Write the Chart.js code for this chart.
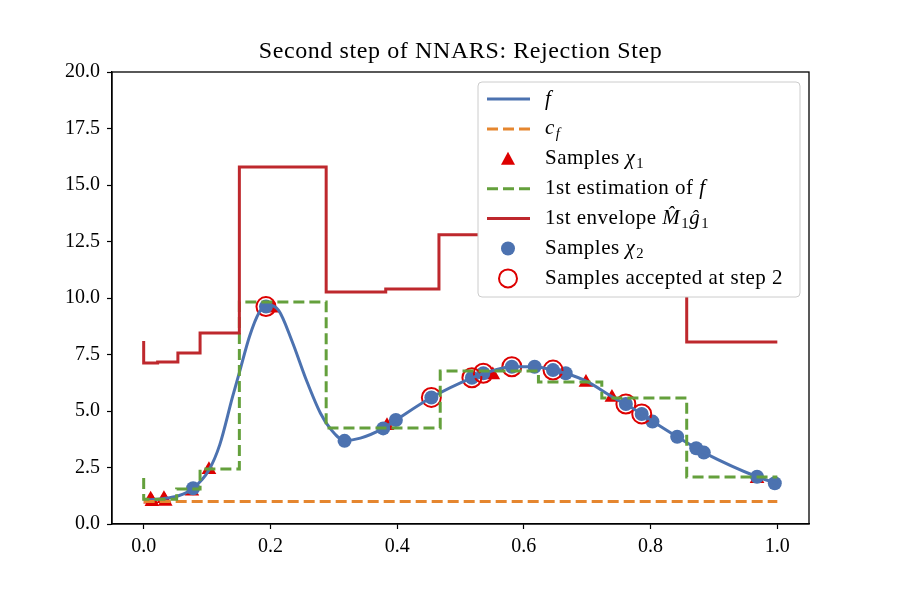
<!DOCTYPE html>
<html>
<head>
<meta charset="utf-8">
<script src="https://cdn.jsdelivr.net/npm/chart.js@4/dist/chart.umd.min.js"></script>
<style>
  body { margin: 0; background: #fff; }
  #wrap { width: 900px; height: 600px; }
</style>
</head>
<body>
<div id="wrap"><canvas id="nnars" width="900" height="600"></canvas></div>
<script>
// values
const fX = [0, 0.03, 0.055, 0.078, 0.103, 0.12, 0.14, 0.151, 0.167, 0.182, 0.195, 0.213, 0.234, 0.257, 0.279, 0.295, 0.317, 0.342, 0.378, 0.398, 0.454, 0.518, 0.536, 0.581, 0.617, 0.646, 0.666, 0.7, 0.741, 0.761, 0.786, 0.803, 0.842, 0.872, 0.884, 0.968, 1.0];
const fY = [1.05, 1.12, 1.25, 1.58, 2.39, 3.5, 5.6, 6.7, 8.3, 9.35, 9.7, 9.45, 8.1, 6.35, 4.9, 4.2, 3.7, 3.8, 4.23, 4.6, 5.6, 6.47, 6.65, 6.96, 6.96, 6.81, 6.67, 6.3, 5.6, 5.3, 4.87, 4.55, 3.86, 3.35, 3.16, 2.09, 1.8];

const cfX = [0, 1];
const cfY = [1, 1];

const chi1X = [0.011, 0.013, 0.032, 0.034, 0.076, 0.103, 0.203, 0.384, 0.551, 0.698, 0.739, 0.968];
const chi1Y = [1.1, 0.98, 1.12, 1.0, 1.45, 2.4, 9.55, 4.35, 6.59, 6.26, 5.6, 2.0];

// stepped lines: value holds from x[i] to x[i+1]
const estX = [0, 0, 0.052, 0.089, 0.151, 0.288, 0.468, 0.623, 0.723, 0.857, 1.0];
const estY = [2.04, 1.1, 1.55, 2.43, 9.82, 4.25, 6.77, 6.28, 5.57, 2.08, 2.08];

const envX = [0, 0, 0.022, 0.054, 0.089, 0.151, 0.288, 0.382, 0.466, 0.857, 1.0];
const envY = [8.1, 7.12, 7.17, 7.57, 8.45, 15.8, 10.27, 10.4, 12.8, 8.05, 8.05];

const chi2X = [0.078, 0.193, 0.317, 0.378, 0.398, 0.454, 0.518, 0.536, 0.581, 0.617, 0.646, 0.666, 0.761, 0.786, 0.803, 0.842, 0.872, 0.884, 0.968, 0.996];
const chi2Y = [1.58, 9.62, 3.68, 4.23, 4.6, 5.6, 6.47, 6.67, 6.96, 6.96, 6.81, 6.67, 5.31, 4.87, 4.53, 3.86, 3.35, 3.16, 2.09, 1.8];

const accX = [0.193, 0.454, 0.518, 0.536, 0.581, 0.646, 0.761, 0.786];
const accY = [9.62, 5.6, 6.47, 6.67, 6.96, 6.81, 5.31, 4.87];

const xTicks = [0, 0.2, 0.4, 0.6, 0.8, 1.0];
const yTicks = [0, 2.5, 5, 7.5, 10, 12.5, 15, 17.5, 20];

const titleText = 'Second step of NNARS: Rejection Step';
const legendRows = [
  [{t: 'f', i: 1}],
  [{t: 'c', i: 1}, {t: 'f', i: 1, s: 1}],
  [{t: 'Samples '}, {t: 'χ', i: 1}, {t: '1', s: 1}],
  [{t: '1st estimation of '}, {t: 'f', i: 1}],
  [{t: '1st envelope '}, {t: 'M\u0302', i: 1}, {t: '1', s: 1}, {t: '\u011D', i: 1}, {t: '1', s: 1}],
  [{t: 'Samples '}, {t: 'χ', i: 1}, {t: '2', s: 1}],
  [{t: 'Samples accepted at step 2'}]
];

const BLUE = '#4c72b0', ORANGE = '#e5862f', GREEN = '#64a03c', DARKRED = '#be282d', RED = '#dd0000';
const SERIF = '"Liberation Serif", "DejaVu Serif", serif';

function pts(xs, ys) {
  return xs.map((x, k) => ({x: x, y: ys[k]}));
}

function richText(ctx, segs, x, y, size) {
  segs.forEach(sg => {
    const sz = sg.s ? size * 0.7 : size;
    ctx.font = (sg.i ? 'italic ' : '') + sz + 'px ' + SERIF;
    ctx.fillText(sg.t, x, sg.s ? y + size * 0.25 : y);
    x += ctx.measureText(sg.t).width + (sg.i && !sg.s ? 1 : 0);
  });
}

// frame, title and legend drawn like the matplotlib original
const decor = {
  id: 'decor',
  afterDatasetsDraw(chart) {
    const ctx = chart.ctx, a = chart.chartArea;
    ctx.save();
    ctx.strokeStyle = '#000';
    ctx.lineWidth = 1.3;
    ctx.strokeRect(a.left, a.top, a.right - a.left, a.bottom - a.top);
    ctx.restore();
  },
  afterDraw(chart) {
    const ctx = chart.ctx, a = chart.chartArea;
    ctx.save();
    ctx.fillStyle = '#000';
    ctx.font = '24px ' + SERIF;
    ctx.letterSpacing = '0.6px';
    ctx.textAlign = 'center';
    ctx.textBaseline = 'middle';
    ctx.fillText(titleText, (a.left + a.right) / 2, 52);

    // legend box
    const bx = 478, by = 82, bw = 322, bh = 215, r = 4;
    ctx.beginPath();
    ctx.moveTo(bx + r, by);
    ctx.arcTo(bx + bw, by, bx + bw, by + bh, r);
    ctx.arcTo(bx + bw, by + bh, bx, by + bh, r);
    ctx.arcTo(bx, by + bh, bx, by, r);
    ctx.arcTo(bx, by, bx + bw, by, r);
    ctx.closePath();
    ctx.fillStyle = '#fff';
    ctx.fill();
    ctx.strokeStyle = '#cccccc';
    ctx.lineWidth = 1;
    ctx.stroke();

    const handles = [
      {line: BLUE}, {line: ORANGE, dash: true}, {tri: RED}, {line: GREEN, dash: true},
      {line: DARKRED}, {dot: BLUE}, {ring: RED}
    ];
    ctx.textAlign = 'left';
    ctx.letterSpacing = '0.5px';
    legendRows.forEach((row, k) => {
      const ry = 99 + k * 29.9;
      const h = handles[k];
      ctx.save();
      if (h.line) {
        ctx.strokeStyle = h.line;
        ctx.lineWidth = 3;
        ctx.setLineDash(h.dash ? [11, 5] : []);
        ctx.beginPath();
        ctx.moveTo(487, ry);
        ctx.lineTo(530, ry);
        ctx.stroke();
      } else if (h.tri) {
        ctx.fillStyle = h.tri;
        ctx.beginPath();
        ctx.moveTo(508, ry - 7);
        ctx.lineTo(515, ry + 6);
        ctx.lineTo(501, ry + 6);
        ctx.closePath();
        ctx.fill();
      } else if (h.dot) {
        ctx.fillStyle = h.dot;
        ctx.beginPath();
        ctx.arc(508, ry, 7, 0, Math.PI * 2);
        ctx.fill();
      } else if (h.ring) {
        ctx.strokeStyle = h.ring;
        ctx.lineWidth = 2;
        ctx.beginPath();
        ctx.arc(508, ry, 9, 0, Math.PI * 2);
        ctx.stroke();
      }
      ctx.restore();
      ctx.fillStyle = '#000';
      ctx.textBaseline = 'middle';
      richText(ctx, row, 545, ry, 21);
    });
    ctx.restore();
  }
};

const ctx = document.getElementById('nnars').getContext('2d');

const chart = new Chart(ctx, {
  type: 'scatter',
  data: {
    datasets: [
      {
        label: 'Samples chi1',
        data: pts(chi1X, chi1Y),
        pointStyle: 'triangle',
        pointRadius: 8.5,
        pointBackgroundColor: RED,
        pointBorderWidth: 0,
        order: 7
      },
      {
        label: 'Samples chi2',
        data: pts(chi2X, chi2Y),
        pointStyle: 'circle',
        pointRadius: 7,
        pointBackgroundColor: BLUE,
        pointBorderWidth: 0,
        order: 6
      },
      {
        label: 'Samples accepted at step 2',
        data: pts(accX, accY),
        pointStyle: 'circle',
        pointRadius: 9.5,
        pointBackgroundColor: 'rgba(0,0,0,0)',
        pointBorderColor: RED,
        pointBorderWidth: 2,
        order: 5
      },
      {
        label: 'f',
        data: pts(fX, fY),
        showLine: true,
        borderColor: BLUE,
        borderWidth: 3,
        pointRadius: 0,
        cubicInterpolationMode: 'monotone',
        order: 4
      },
      {
        label: 'c_f',
        data: pts(cfX, cfY),
        showLine: true,
        borderColor: ORANGE,
        borderWidth: 3,
        borderDash: [11, 5],
        pointRadius: 0,
        order: 3
      },
      {
        label: '1st estimation of f',
        data: pts(estX, estY),
        showLine: true,
        stepped: 'before',
        borderColor: GREEN,
        borderWidth: 3,
        borderDash: [11, 5],
        pointRadius: 0,
        order: 2
      },
      {
        label: '1st envelope',
        data: pts(envX, envY),
        showLine: true,
        stepped: 'before',
        borderColor: DARKRED,
        borderWidth: 3,
        pointRadius: 0,
        order: 1
      }
    ]
  },
  options: {
    responsive: false,
    animation: false,
    events: [],
    layout: { padding: { top: 72, right: 91, left: 0, bottom: 0 } },
    plugins: {
      legend: { display: false },
      title: { display: false },
      tooltip: { enabled: false }
    },
    scales: {
      x: {
        type: 'linear',
        min: -0.05,
        max: 1.05,
        afterBuildTicks: s => { s.ticks = xTicks.map(v => ({value: v})); },
        afterFit: s => { s.height = 76; },
        grid: { drawOnChartArea: false, drawTicks: true, tickLength: 5, tickColor: '#000', tickWidth: 1.2 },
        border: { display: true, color: '#000', width: 1.3 },
        ticks: {
          color: '#000',
          padding: 6,
          maxRotation: 0,
          font: { family: SERIF, size: 20 },
          callback: v => v.toFixed(1)
        }
      },
      y: {
        type: 'linear',
        min: 0,
        max: 20,
        afterBuildTicks: s => { s.ticks = yTicks.map(v => ({value: v})); },
        afterFit: s => { s.width = 112; },
        grid: { drawOnChartArea: false, drawTicks: true, tickLength: 5, tickColor: '#000', tickWidth: 1.2 },
        border: { display: true, color: '#000', width: 1.3 },
        ticks: {
          color: '#000',
          padding: 7,
          font: { family: SERIF, size: 20 },
          callback: v => v.toFixed(1)
        }
      }
    }
  },
  plugins: [decor]
});
</script>
</body>
</html>
